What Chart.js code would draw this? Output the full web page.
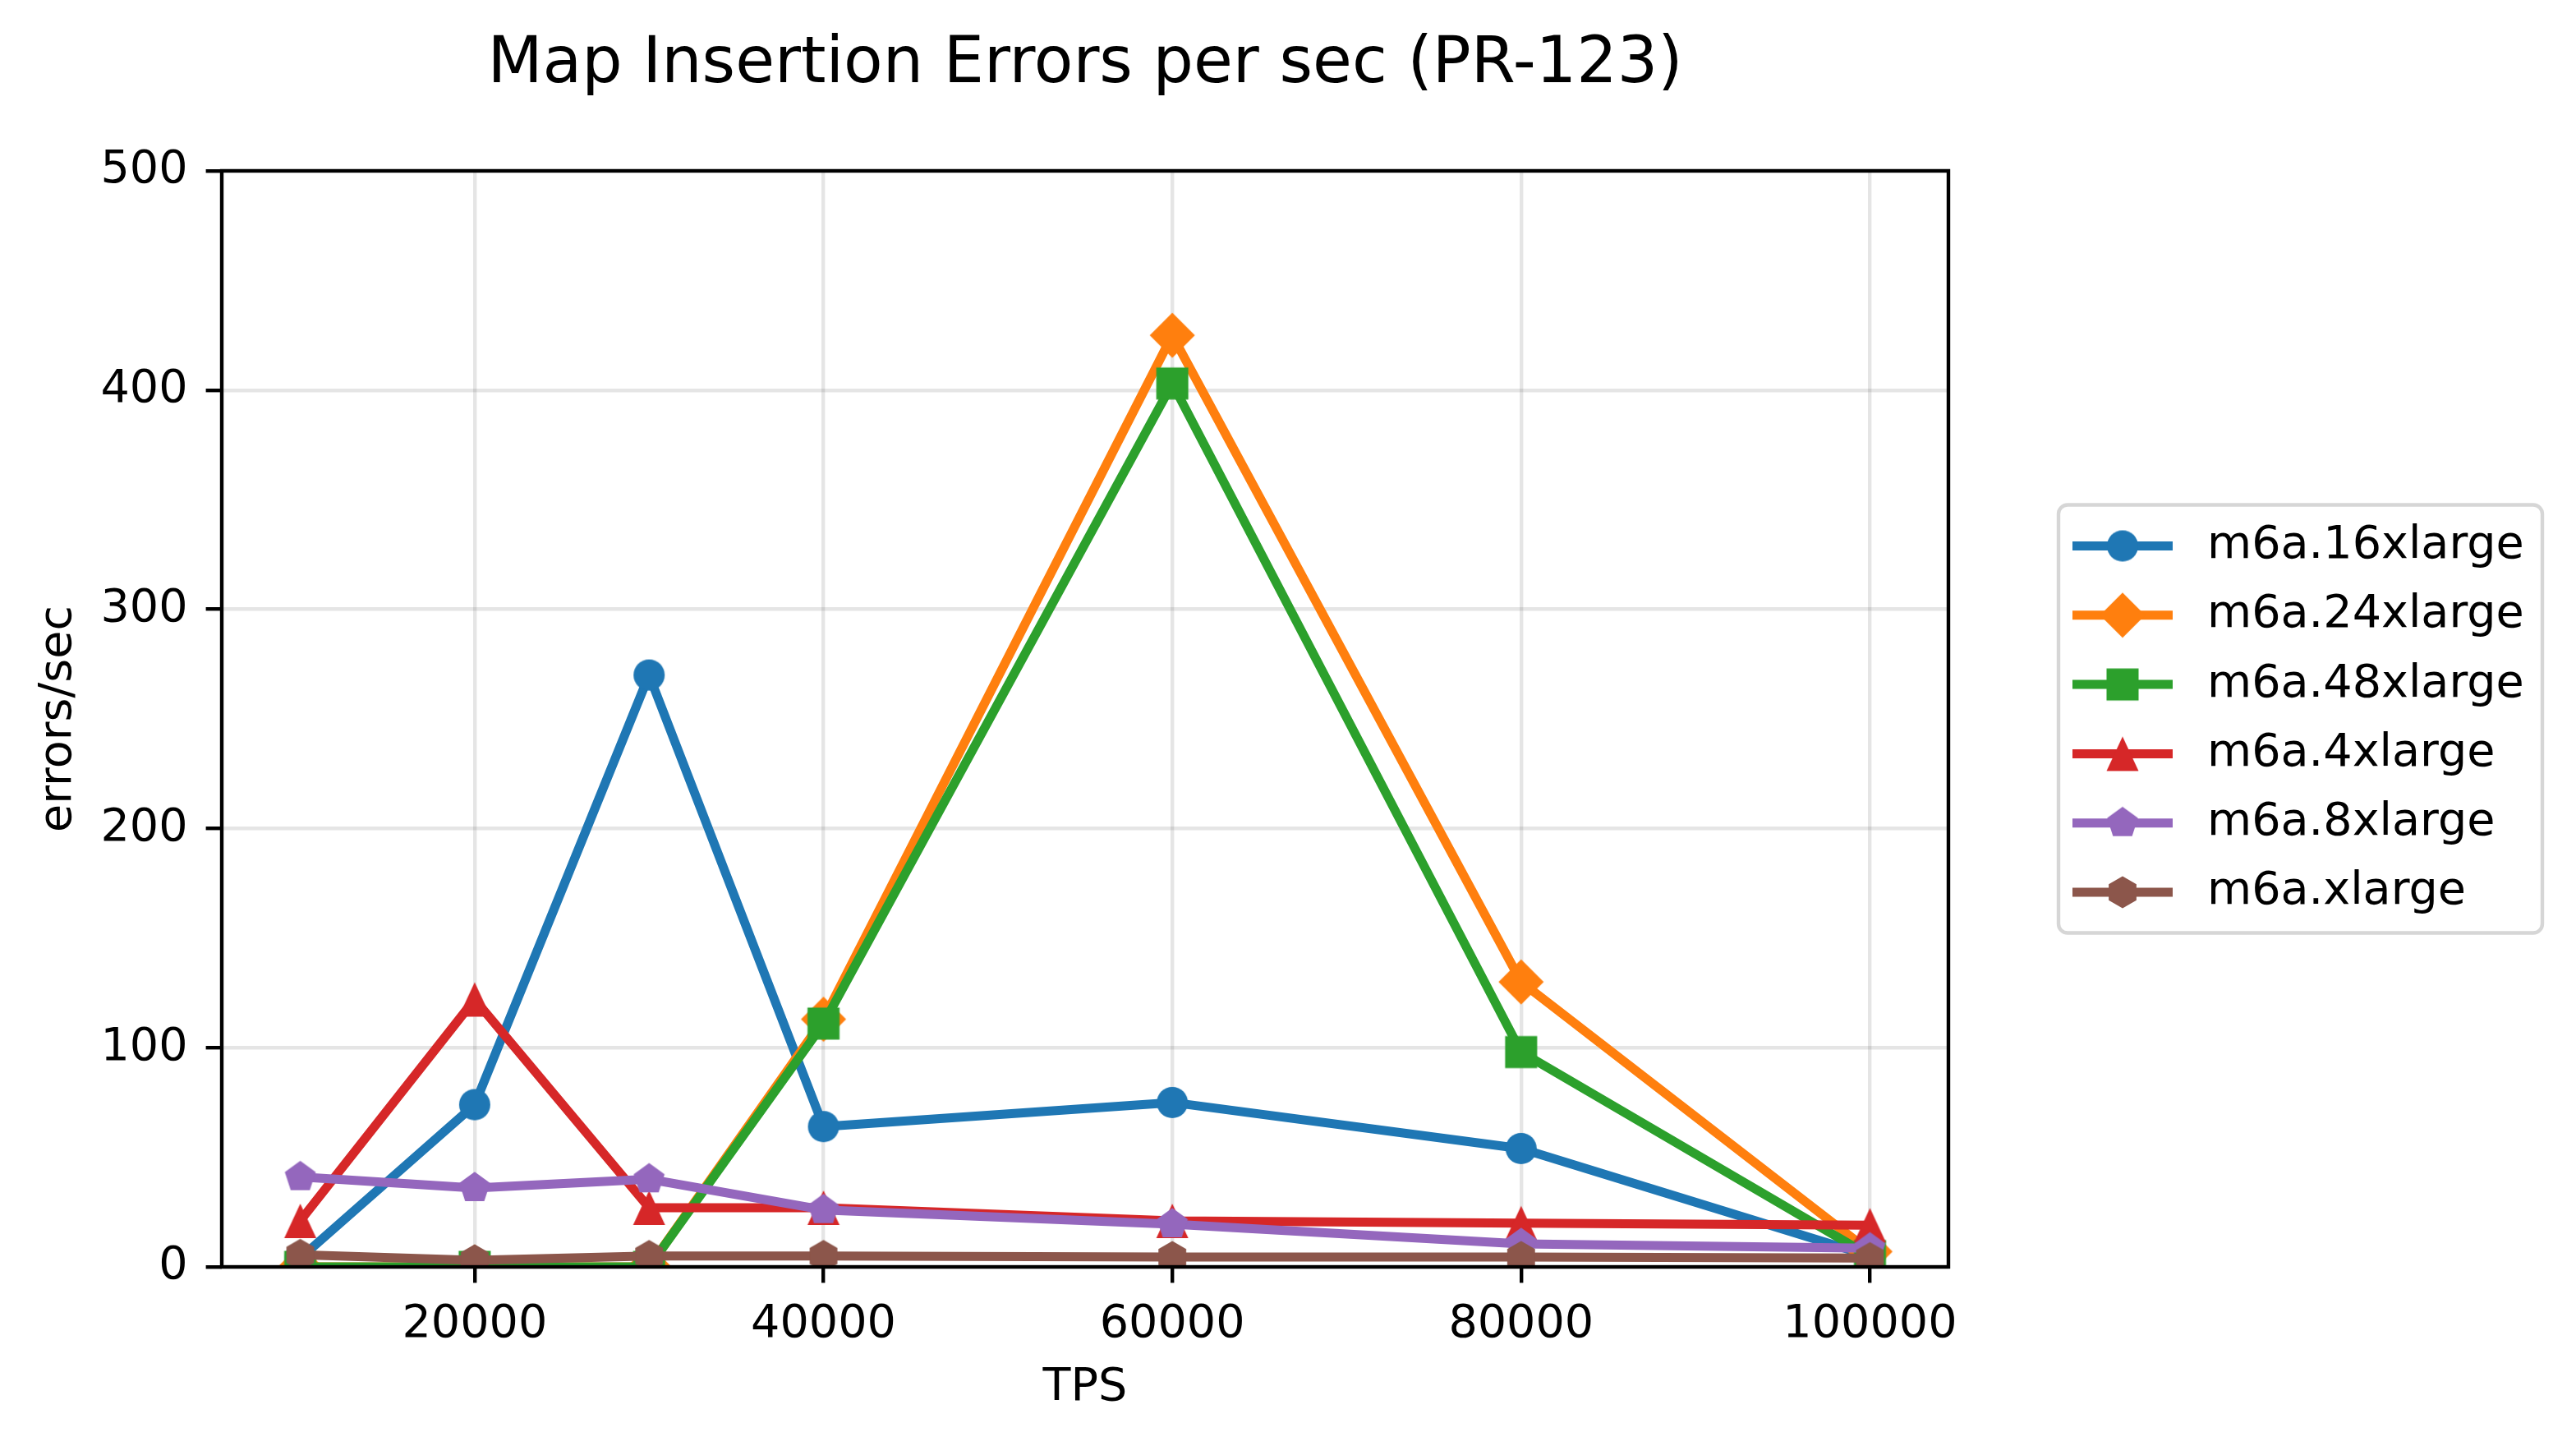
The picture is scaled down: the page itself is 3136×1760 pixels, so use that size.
<!DOCTYPE html>
<html>
<head>
<meta charset="utf-8">
<title>Map Insertion Errors per sec (PR-123)</title>
<script src="https://cdn.jsdelivr.net/npm/chart.js@4.4.0/dist/chart.umd.min.js"></script>
<style>
  html, body { margin: 0; padding: 0; background: #fff; }
  canvas { display: block; }
</style>
</head>
<body>
<canvas id="chart" width="3136" height="1760"></canvas>
<script>
// data
const tps = [10000, 20000, 30000, 40000, 60000, 80000, 100000];
const m6a16xlarge = [4, 74, 270, 64, 75, 54, 5];
const m6a24xlarge = [0, 0, 0, 113, 425, 130, 7];
const m6a48xlarge = [0, 0, 0, 111, 403, 98, 5];
const m6a4xlarge = [21, 122, 27, 27, 21, 20, 19];
const m6a8xlarge = [41, 36, 40, 26, 19.5, 10.5, 8.5];
const m6axlarge = [5.5, 3, 5, 5, 4.5, 4.5, 4];

const seriesNames = ["m6a.16xlarge", "m6a.24xlarge", "m6a.48xlarge", "m6a.4xlarge", "m6a.8xlarge", "m6a.xlarge"];
const seriesValues = [m6a16xlarge, m6a24xlarge, m6a48xlarge, m6a4xlarge, m6a8xlarge, m6axlarge];

const xTicks = [20000, 40000, 60000, 80000, 100000];
const yTicks = [0, 100, 200, 300, 400, 500];

// styles (matplotlib tab10 look)
const colors = ["#1f77b4", "#ff7f0e", "#2ca02c", "#d62728", "#9467bd", "#8c564b"];
const shapes = ["circle", "diamond", "square", "triangle", "pentagon", "hexagon"];
const FONT = "'DejaVu Sans', 'Liberation Sans', sans-serif";

// build a marker image, the same one is used in the plot and in the legend
function makeMarker(shape, color) {
    const c = document.createElement("canvas");
    c.width = 64;
    c.height = 64;
    const g = c.getContext("2d");
    g.fillStyle = color;
    g.translate(32, 32);
    g.beginPath();
    const polygon = (n, r) => {
        for (let i = 0; i < n; i++) {
            const a = -Math.PI / 2 + i * 2 * Math.PI / n;
            if (i === 0) g.moveTo(r * Math.cos(a), r * Math.sin(a));
            else g.lineTo(r * Math.cos(a), r * Math.sin(a));
        }
    };
    if (shape === "circle") g.arc(0, 0, 19, 0, Math.PI * 2);
    else if (shape === "diamond") { g.moveTo(0, -27.5); g.lineTo(27.5, 0); g.lineTo(0, 27.5); g.lineTo(-27.5, 0); }
    else if (shape === "square") g.rect(-19.5, -19.5, 39, 39);
    else if (shape === "triangle") { g.moveTo(0, -21); g.lineTo(19.5, 21); g.lineTo(-19.5, 21); }
    else if (shape === "pentagon") polygon(5, 19.8);
    else if (shape === "hexagon") polygon(6, 19.5);
    g.closePath();
    g.fill();
    return c;
}

const markers = shapes.map((s, i) => makeMarker(s, colors[i]));

const datasets = seriesNames.map((name, i) => ({
    label: name,
    data: tps.map((x, j) => ({ x: x, y: seriesValues[i][j] })),
    borderColor: colors[i],
    backgroundColor: colors[i],
    borderWidth: 11,
    borderJoinStyle: "round",
    pointStyle: markers[i],
    pointRadius: 19,
    pointHoverRadius: 19,
    tension: 0,
    clip: 0,
    order: seriesNames.length - i   // later series drawn on top, like matplotlib
}));

// top and right spines, drawn over the lines
const framePlugin = {
    id: "frame",
    afterDatasetsDraw(chart) {
        const { ctx, chartArea: a } = chart;
        ctx.save();
        ctx.strokeStyle = "#000";
        ctx.lineWidth = 4.4;
        ctx.strokeRect(a.left, a.top, a.right - a.left, a.bottom - a.top);
        ctx.restore();
    }
};

// legend box at the right, line + marker handles
const legendPlugin = {
    id: "sideLegend",
    afterDraw(chart) {
        const { ctx, chartArea: a } = chart;
        const left = a.right + 134;
        const width = 589;
        const height = 521;
        const top = (a.top + a.bottom) / 2 - height / 2;
        const rowStep = 84.3;
        ctx.save();
        ctx.fillStyle = "rgba(255,255,255,0.8)";
        ctx.strokeStyle = "#d6d6d6";
        ctx.lineWidth = 4.4;
        ctx.beginPath();
        ctx.roundRect(left, top, width, height, 11);
        ctx.fill();
        ctx.stroke();

        ctx.font = "55.6px " + FONT;
        ctx.textBaseline = "middle";
        ctx.textAlign = "left";
        seriesNames.forEach((name, i) => {
            const y = top + 50 + i * rowStep;
            ctx.strokeStyle = colors[i];
            ctx.lineWidth = 11;
            ctx.lineCap = "butt";
            ctx.beginPath();
            ctx.moveTo(left + 17, y);
            ctx.lineTo(left + 139, y);
            ctx.stroke();
            const m = markers[i];
            ctx.drawImage(m, left + 78 - m.width / 2, y - m.height / 2);
            ctx.fillStyle = "#000";
            ctx.fillText(name, left + 181, y);
        });
        ctx.restore();
    }
};

const gridStyle = {
    color: "rgba(0,0,0,0.1)",
    lineWidth: 4.4,
    tickColor: "#000",
    tickWidth: 4.4,
    tickLength: 19.4
};

new Chart(document.getElementById("chart"), {
    type: "line",
    data: { datasets: datasets },
    plugins: [framePlugin, legendPlugin],
    options: {
        responsive: false,
        animation: false,
        devicePixelRatio: 1,
        layout: { padding: { left: 0, top: 0, right: 764, bottom: 0 } },
        plugins: {
            legend: { display: false },
            tooltip: { enabled: false },
            title: {
                display: true,
                text: "Map Insertion Errors per sec (PR-123)",
                fullSize: false,
                color: "#000",
                font: { family: FONT, size: 77.8, weight: "normal" },
                padding: { top: 33, bottom: 81.6 }
            }
        },
        scales: {
            x: {
                type: "linear",
                min: 5500,
                max: 104500,
                afterBuildTicks: (s) => { s.ticks = xTicks.map(v => ({ value: v })); },
                afterFit: (s) => { s.height = 218; },
                ticks: {
                    color: "#000",
                    font: { family: FONT, size: 55.6 },
                    padding: 18,
                    maxRotation: 0,
                    autoSkip: false,
                    callback: (v) => String(v)
                },
                grid: gridStyle,
                border: { display: false },
                title: {
                    display: true,
                    text: "TPS",
                    color: "#000",
                    font: { family: FONT, size: 55.6 },
                    padding: { top: 0, bottom: 37 }
                }
            },
            y: {
                min: 0,
                max: 500,
                afterBuildTicks: (s) => { s.ticks = yTicks.map(v => ({ value: v })); },
                afterFit: (s) => { s.width = 270; },
                ticks: {
                    color: "#000",
                    font: { family: FONT, size: 55.6 },
                    padding: 22,
                    callback: (v) => String(v)
                },
                grid: gridStyle,
                border: { display: false },
                title: {
                    display: true,
                    text: "errors/sec",
                    color: "#000",
                    font: { family: FONT, size: 55.6 },
                    padding: { top: 38, bottom: 0 }
                }
            }
        }
    }
});
</script>
</body>
</html>
